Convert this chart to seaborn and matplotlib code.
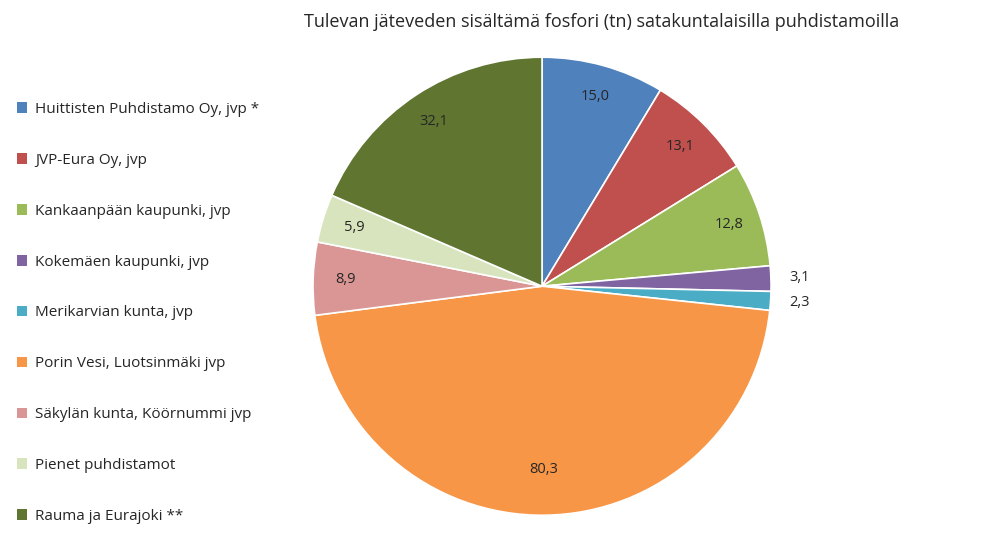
import numpy as np
import matplotlib.pyplot as plt
import seaborn as sns
from matplotlib.patches import Patch

labels = ["Huittisten Puhdistamo Oy, jvp *", "JVP-Eura Oy, jvp", "Kankaanpään kaupunki, jvp",
          "Kokemäen kaupunki, jvp", "Merikarvian kunta, jvp", "Porin Vesi, Luotsinmäki jvp",
          "Säkylän kunta, Köörnummi jvp", "Pienet puhdistamot", "Rauma ja Eurajoki **"]
values = [15.0, 13.1, 12.8, 3.1, 2.3, 80.3, 8.9, 5.9, 32.1]
colors = ["#4F81BD", "#C0504D", "#9BBB59", "#8064A2", "#4BACC6",
          "#F79646", "#D99694", "#D7E4BD", "#5F7530"]

sns.set_style("white")
plt.rcParams["font.family"] = "Open Sans"
fig = plt.figure(figsize=(9.94, 5.34), dpi=100)
ax = fig.add_axes([0.3149, 0.035, 0.4608, 0.858])
wedges, _ = ax.pie(values, colors=sns.color_palette(colors), startangle=90, counterclock=False,
                   wedgeprops=dict(edgecolor="white", linewidth=1.2), radius=1)
for w, v in zip(wedges, values):
    ang = np.deg2rad((w.theta1 + w.theta2) / 2)
    txt = f"{v:.1f}".replace(".", ",")
    if v < 4:
        r = 1.08
        ha = "left"
    else:
        r = 0.86 if v < 50 else 0.80
        ha = "center"
    ax.text(r * np.cos(ang), r * np.sin(ang), txt, ha=ha, va="center", fontsize=10.5)
ax.set_xlim(-1, 1)
ax.set_ylim(-1, 1)
ax.set_aspect("equal")
ax.axis("off")

handles = [Patch(facecolor=c, edgecolor="none") for c in colors]
fig.legend(handles, labels, loc="upper left", bbox_to_anchor=(0.003, 0.835), frameon=False,
           fontsize=11, labelspacing=2.35, handlelength=0.7, handleheight=0.7, handletextpad=0.5)
fig.text(0.605, 0.975, "Tulevan jäteveden sisältämä fosfori (tn) satakuntalaisilla puhdistamoilla",
         ha="center", va="top", fontsize=13)
fig.savefig("out.png", dpi=100)
